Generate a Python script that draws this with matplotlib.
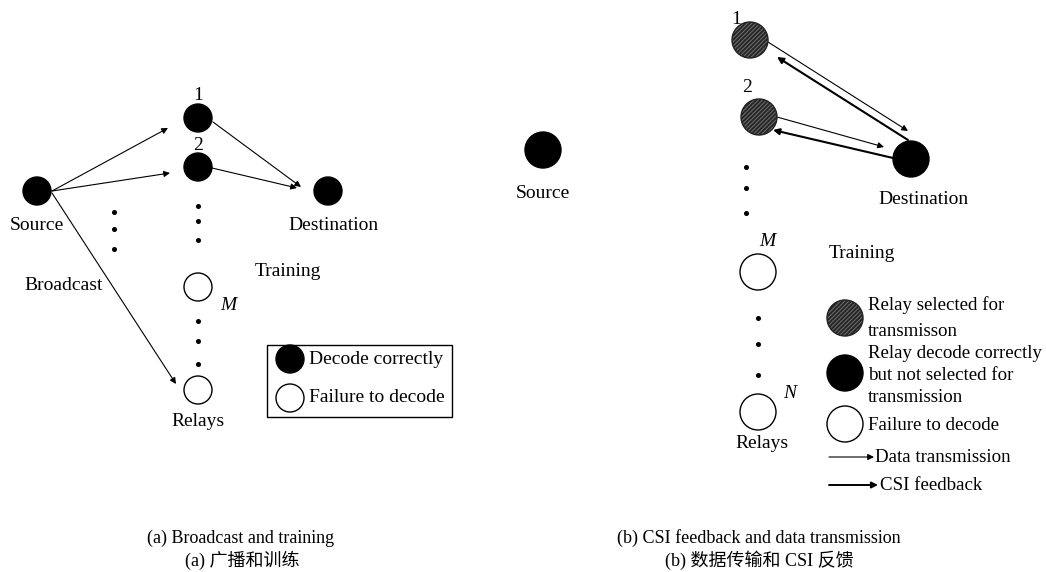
import matplotlib
matplotlib.use("Agg")
import matplotlib.pyplot as plt
from matplotlib.patches import Circle, Rectangle, FancyArrowPatch

plt.rcParams['font.family'] = ['Liberation Serif', 'Noto Sans CJK SC']
plt.rcParams['hatch.linewidth'] = 0.7

W, H = 1046, 572

# ---------------- panel (a) ----------------
a_nodes_x = [37, 198, 198, 328, 198, 198]
a_nodes_y = [191, 118, 167, 191, 287, 390]
a_nodes_fill = ['black', 'black', 'black', 'black', 'white', 'white']
a_node_r = 14

a_dots_x = [198, 198, 198, 198, 198, 198, 114, 114, 114]
a_dots_y = [206, 221, 240, 321, 341, 364, 212, 229, 249]

a_arrows = [((52, 191), (168, 128)), ((52, 191), (170, 173)),
            ((52, 193), (176, 384)), ((213, 122), (301, 187)),
            ((212, 168), (297, 188))]

a_texts = [("1", 198, 96, False), ("2", 198, 146, False), ("Source", 37, 225, False),
           ("Destination", 333, 225, False), ("Training", 288, 272, False),
           ("Broadcast", 64, 285, False), ("M", 228, 305, True), ("Relays", 198, 421, False)]

a_legend_labels = ["Decode correctly", "Failure to decode"]
a_legend_fill = ['black', 'white']
a_legend_y = [359, 398]

# ---------------- panel (b) ----------------
b_nodes_x = [543, 750, 759, 911, 758, 758]
b_nodes_y = [150, 40, 117, 159, 272, 412]
b_nodes_kind = ['black', 'hatch', 'hatch', 'black', 'white', 'white']
b_node_r = 18

b_dots_x = [746, 746, 746, 758, 758, 758]
b_dots_y = [167, 188, 213, 318, 344, 375]

b_arrows_thin = [((768, 42), (908, 131)), ((777, 117), (884, 147))]
b_arrows_thick = [((908, 140), (777, 57)), ((893, 158), (773, 130))]

b_texts = [("1", 736, 20, False), ("2", 747, 88, False), ("Source", 543, 193, False),
           ("Destination", 923, 200, False), ("Training", 862, 254, False),
           ("M", 767, 242, True), ("N", 790, 393, True), ("Relays", 762, 443, False)]

b_legend_kind = ['hatch', 'black', 'white']
b_legend_y = [318, 373, 424]
b_legend_lines = [("Relay selected for", 305), ("transmisson", 332),
                  ("Relay decode correctly", 353), ("but not selected for", 375),
                  ("transmission", 398), ("Failure to decode", 425)]
b_arrow_legend = [("Data transmission", 457, 0.8), ("CSI feedback", 485, 1.4)]

captions = [("(a) Broadcast and training", 241, 538), ("(a) 广播和训练", 242, 560),
            ("(b) CSI feedback and data transmission", 759, 538),
            ("(b) 数据传输和 CSI 反馈", 759, 560)]

fig = plt.figure(figsize=(W / 100, H / 100), dpi=100)
ax = fig.add_axes([0, 0, 1, 1])
ax.set_xlim(0, W)
ax.set_ylim(H, 0)
ax.axis('off')

FS = 14


def node(x, y, r, kind):
    if kind == 'hatch':
        ax.add_patch(Circle((x, y), r, facecolor='#262626', edgecolor='#707070',
                            hatch='////////', lw=0, zorder=3))
        ax.add_patch(Circle((x, y), r, facecolor='none', edgecolor='#222222', lw=1.0, zorder=4))
    else:
        ax.add_patch(Circle((x, y), r, facecolor=kind, edgecolor='black', lw=1.0, zorder=3))


def arrow(p0, p1, lw=0.8, ms=9):
    ax.add_patch(FancyArrowPatch(p0, p1, arrowstyle='-|>', mutation_scale=ms,
                                 lw=lw, color='black', shrinkA=0, shrinkB=0, zorder=2))


# panel (a)
for x, y, f in zip(a_nodes_x, a_nodes_y, a_nodes_fill):
    node(x, y, a_node_r, f)
ax.plot(a_dots_x, a_dots_y, 'o', color='black', ms=2.6, ls='none')
for p0, p1 in a_arrows:
    arrow(p0, p1)
for t, x, y, it in a_texts:
    ax.text(x, y, t, fontsize=FS, ha='center', va='center', style='italic' if it else 'normal')
ax.add_patch(Rectangle((267, 345), 185, 72, facecolor='none', edgecolor='black', lw=1.0))
for lab, f, y in zip(a_legend_labels, a_legend_fill, a_legend_y):
    node(290, y, a_node_r, f)
    ax.text(309, y, lab, fontsize=FS, ha='left', va='center')

# panel (b)
for x, y, k in zip(b_nodes_x, b_nodes_y, b_nodes_kind):
    node(x, y, b_node_r, k)
ax.plot(b_dots_x, b_dots_y, 'o', color='black', ms=2.6, ls='none')
for p0, p1 in b_arrows_thin:
    arrow(p0, p1, lw=0.8)
for p0, p1 in b_arrows_thick:
    arrow(p0, p1, lw=1.5)
for t, x, y, it in b_texts:
    ax.text(x, y, t, fontsize=FS, ha='center', va='center', style='italic' if it else 'normal')
for k, y in zip(b_legend_kind, b_legend_y):
    node(845, y, b_node_r, k)
for t, y in b_legend_lines:
    ax.text(868, y, t, fontsize=13.6, ha='left', va='center')
for t, y, lw in b_arrow_legend:
    arrow((829, y), (874 if lw < 1 else 878, y), lw=lw)
    ax.text(875 if lw < 1 else 880, y, t, fontsize=13.6, ha='left', va='center')

for t, x, y in captions:
    ax.text(x, y, t, fontsize=13, ha='center', va='center')

fig.savefig('out.png', dpi=100)
